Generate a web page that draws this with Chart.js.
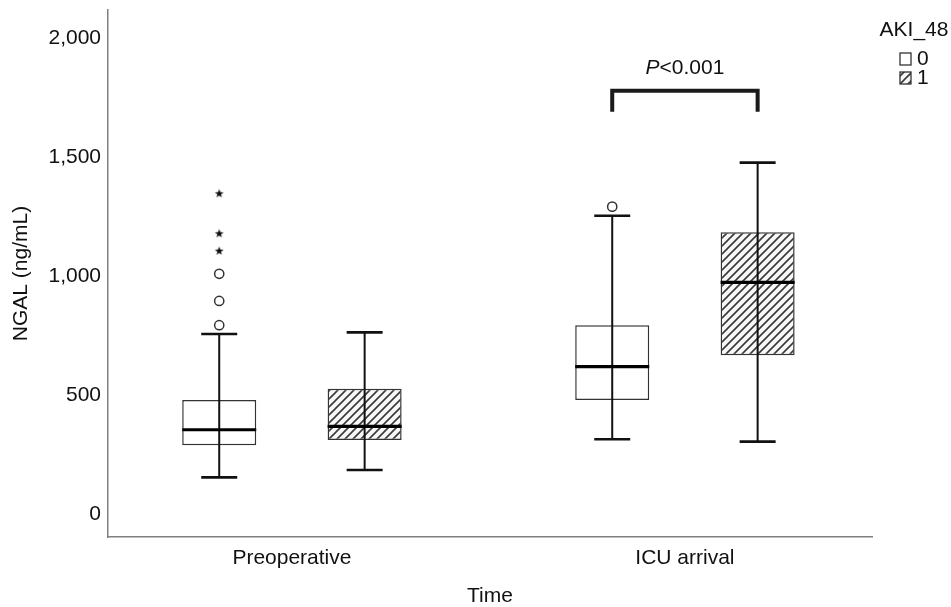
<!DOCTYPE html>
<html>
<head>
<meta charset="utf-8">
<script src="https://cdn.jsdelivr.net/npm/chart.js@4.4.1/dist/chart.umd.min.js"></script>
<style>
  html, body { margin: 0; padding: 0; background: #fff; }
  #wrap { width: 951px; height: 607px; position: relative; }
</style>
</head>
<body>
<div id="wrap"><canvas id="c"></canvas></div>
<script>
// ---------- data ----------
const categories = ['Preoperative', 'ICU arrival'];
const groupLabels = ['0', '1'];
const legendTitle = 'AKI_48';
const yTicks = [0, 500, 1000, 1500, 2000];

// AKI_48 = 0
const low0  = [156, 316];
const q1_0  = [291, 481];
const med0  = [356, 621];
const q3_0  = [481, 795];
const high0 = [758, 1255];
const outliers0 = [[795, 897, 1011], [1293]];
const extremes0 = [[1108, 1181, 1349], []];

// AKI_48 = 1
const low1  = [187, 306];
const q1_1  = [313, 669];
const med1  = [370, 975];
const q3_1  = [528, 1186];
const high1 = [765, 1478];

// significance bracket (ICU arrival)
const bracketTop = 1780;
const bracketEnd = 1692;
const pItalic = 'P';
const pRest = '<0.001';

// ---------- styling ----------
const FONT = "'Liberation Sans', Arial, sans-serif";
const FS = 21;
const xOff = [-0.185, 0.185];
const capHalf = 18;

function makeHatch() {
  const s = 8;
  const c = document.createElement('canvas');
  c.width = s; c.height = s;
  const g = c.getContext('2d');
  g.fillStyle = '#f7f7f7';
  g.fillRect(0, 0, s, s);
  g.strokeStyle = '#383838';
  g.lineWidth = 1.6;
  g.beginPath();
  g.moveTo(-2, s + 2); g.lineTo(s + 2, -2);
  g.moveTo(-2, 2); g.lineTo(2, -2);
  g.moveTo(s - 2, s + 2); g.lineTo(s + 2, s - 2);
  g.stroke();
  return g.createPattern(c, 'repeat');
}
function makeStar() {
  const c = document.createElement('canvas');
  c.width = 10; c.height = 10;
  const g = c.getContext('2d');
  g.fillStyle = '#111';
  g.beginPath();
  const R = 4.6, r = 1.9, cx = 5, cy = 5.3;
  for (let k = 0; k < 10; k++) {
    const rad = k % 2 === 0 ? R : r;
    const a = -Math.PI / 2 + k * Math.PI / 5;
    const px = cx + rad * Math.cos(a), py = cy + rad * Math.sin(a);
    if (k === 0) g.moveTo(px, py); else g.lineTo(px, py);
  }
  g.closePath();
  g.fill();
  return c;
}
const hatch = makeHatch();
const starImg = makeStar();

const boxData0 = categories.map((c, i) => ({ x: i + xOff[0], y: [q1_0[i], q3_0[i]] }));
const boxData1 = categories.map((c, i) => ({ x: i + xOff[1], y: [q1_1[i], q3_1[i]] }));
const outData = outliers0.flatMap((arr, i) => arr.map(v => ({ x: i + xOff[0], y: v })));
const extData = extremes0.flatMap((arr, i) => arr.map(v => ({ x: i + xOff[0], y: v })));

function line(ctx, x1, y1, x2, y2) {
  ctx.beginPath(); ctx.moveTo(x1, y1); ctx.lineTo(x2, y2); ctx.stroke();
}

const extras = {
  id: 'extras',
  afterDatasetsDraw(chart) {
    const { ctx, scales: { y } } = chart;
    const groups = [{ low: low0, med: med0, high: high0 }, { low: low1, med: med1, high: high1 }];
    groups.forEach((g, gi) => {
      const meta = chart.getDatasetMeta(gi);
      categories.forEach((c, i) => {
        const el = meta.data[i];
        const cx = el.x, w = el.width;
        const yl = y.getPixelForValue(g.low[i]);
        const yh = y.getPixelForValue(g.high[i]);
        const ym = y.getPixelForValue(g.med[i]);
        ctx.save();
        ctx.lineCap = 'butt';
        ctx.strokeStyle = '#111';
        ctx.lineWidth = 2;
        line(ctx, cx, yl, cx, yh);
        ctx.lineWidth = 2.6;
        line(ctx, cx - capHalf, yl, cx + capHalf, yl);
        line(ctx, cx - capHalf, yh, cx + capHalf, yh);
        ctx.strokeStyle = '#000';
        ctx.lineWidth = 3.2;
        line(ctx, cx - w / 2, ym, cx + w / 2, ym);
        ctx.restore();
      });
    });
  },
  afterDraw(chart) {
    const { ctx, scales: { x, y } } = chart;
    // bracket
    const xa = x.getPixelForValue(1 + xOff[0]);
    const xb = x.getPixelForValue(1 + xOff[1]);
    const yt = y.getPixelForValue(bracketTop);
    const ye = y.getPixelForValue(bracketEnd);
    ctx.save();
    ctx.strokeStyle = '#1a1a1a';
    ctx.lineWidth = 4;
    ctx.lineJoin = 'miter';
    ctx.lineCap = 'butt';
    ctx.beginPath();
    ctx.moveTo(xa, ye); ctx.lineTo(xa, yt); ctx.lineTo(xb, yt); ctx.lineTo(xb, ye);
    ctx.stroke();
    // p text
    ctx.fillStyle = '#111';
    ctx.textBaseline = 'middle';
    ctx.textAlign = 'left';
    ctx.font = `italic ${FS}px ${FONT}`;
    const w1 = ctx.measureText(pItalic).width;
    ctx.font = `${FS}px ${FONT}`;
    const w2 = ctx.measureText(pRest).width;
    const sx = (xa + xb) / 2 - (w1 + w2) / 2;
    const ty = yt - 23;
    ctx.font = `italic ${FS}px ${FONT}`;
    ctx.fillText(pItalic, sx, ty);
    ctx.font = `${FS}px ${FONT}`;
    ctx.fillText(pRest, sx + w1, ty);
    // legend
    ctx.textAlign = 'center';
    ctx.fillText(legendTitle, 914, 30);
    ctx.textAlign = 'left';
    const items = [{ fill: '#fff' }, { fill: hatch }];
    items.forEach((it, k) => {
      const by = 53 + k * 19;
      ctx.fillStyle = it.fill;
      ctx.fillRect(900, by, 11, 12);
      ctx.strokeStyle = '#333';
      ctx.lineWidth = 1.3;
      ctx.strokeRect(900, by, 11, 12);
      ctx.fillStyle = '#111';
      ctx.fillText(groupLabels[k], 917, by + 6.5);
    });
    ctx.restore();
  }
};

new Chart(document.getElementById('c'), {
  type: 'bar',
  data: {
    datasets: [
      { label: groupLabels[0], data: boxData0, backgroundColor: '#ffffff', borderColor: '#333', borderWidth: 1.5, borderSkipped: false, grouped: false, barPercentage: 0.509, categoryPercentage: 1, order: 3 },
      { label: groupLabels[1], data: boxData1, backgroundColor: hatch, borderColor: '#333', borderWidth: 1.5, borderSkipped: false, grouped: false, barPercentage: 0.509, categoryPercentage: 1, order: 3 },
      { type: 'scatter', label: 'outliers', data: outData, pointStyle: 'circle', pointRadius: 4.6, borderWidth: 1.5, borderColor: '#333', backgroundColor: '#fff', order: 1 },
      { type: 'scatter', label: 'extremes', data: extData, pointStyle: starImg, pointRadius: 5, order: 1 }
    ]
  },
  options: {
    responsive: true,
    maintainAspectRatio: false,
    animation: false,
    events: [],
    layout: { padding: { top: 10, right: 79, left: 0, bottom: 0 } },
    plugins: { legend: { display: false }, tooltip: { enabled: false } },
    scales: {
      x: {
        type: 'linear',
        offset: false,
        min: -0.468,
        max: 1.476,
        afterBuildTicks: s => { s.ticks = categories.map((c, i) => ({ value: i })); },
        afterFit: s => { s.height = 70; s.paddingLeft = 0; s.paddingRight = 0; },
        grid: { display: false, drawTicks: false },
        border: { display: true, color: '#808080', width: 1.5 },
        ticks: { padding: 9, color: '#111', font: { family: FONT, size: FS }, callback: (v, i) => categories[i], maxRotation: 0, autoSkip: false },
        title: { display: true, text: 'Time', color: '#111', font: { family: FONT, size: FS, lineHeight: 1 }, padding: { top: 0, bottom: 0 } }
      },
      y: {
        type: 'linear',
        min: -94.5,
        max: 2119,
        afterBuildTicks: s => { s.ticks = yTicks.map(v => ({ value: v })); },
        afterFit: s => { s.width = 108; s.paddingTop = 0; s.paddingBottom = 0; },
        grid: { display: false, drawTicks: false },
        border: { display: true, color: '#808080', width: 1.5 },
        ticks: { padding: 7, color: '#111', font: { family: FONT, size: FS }, callback: v => v.toLocaleString('en-US') },
        title: { display: true, text: 'NGAL (ng/mL)', color: '#111', font: { family: FONT, size: FS }, padding: { top: 9, bottom: 0 } }
      }
    }
  },
  plugins: [extras]
});
</script>
</body>
</html>
